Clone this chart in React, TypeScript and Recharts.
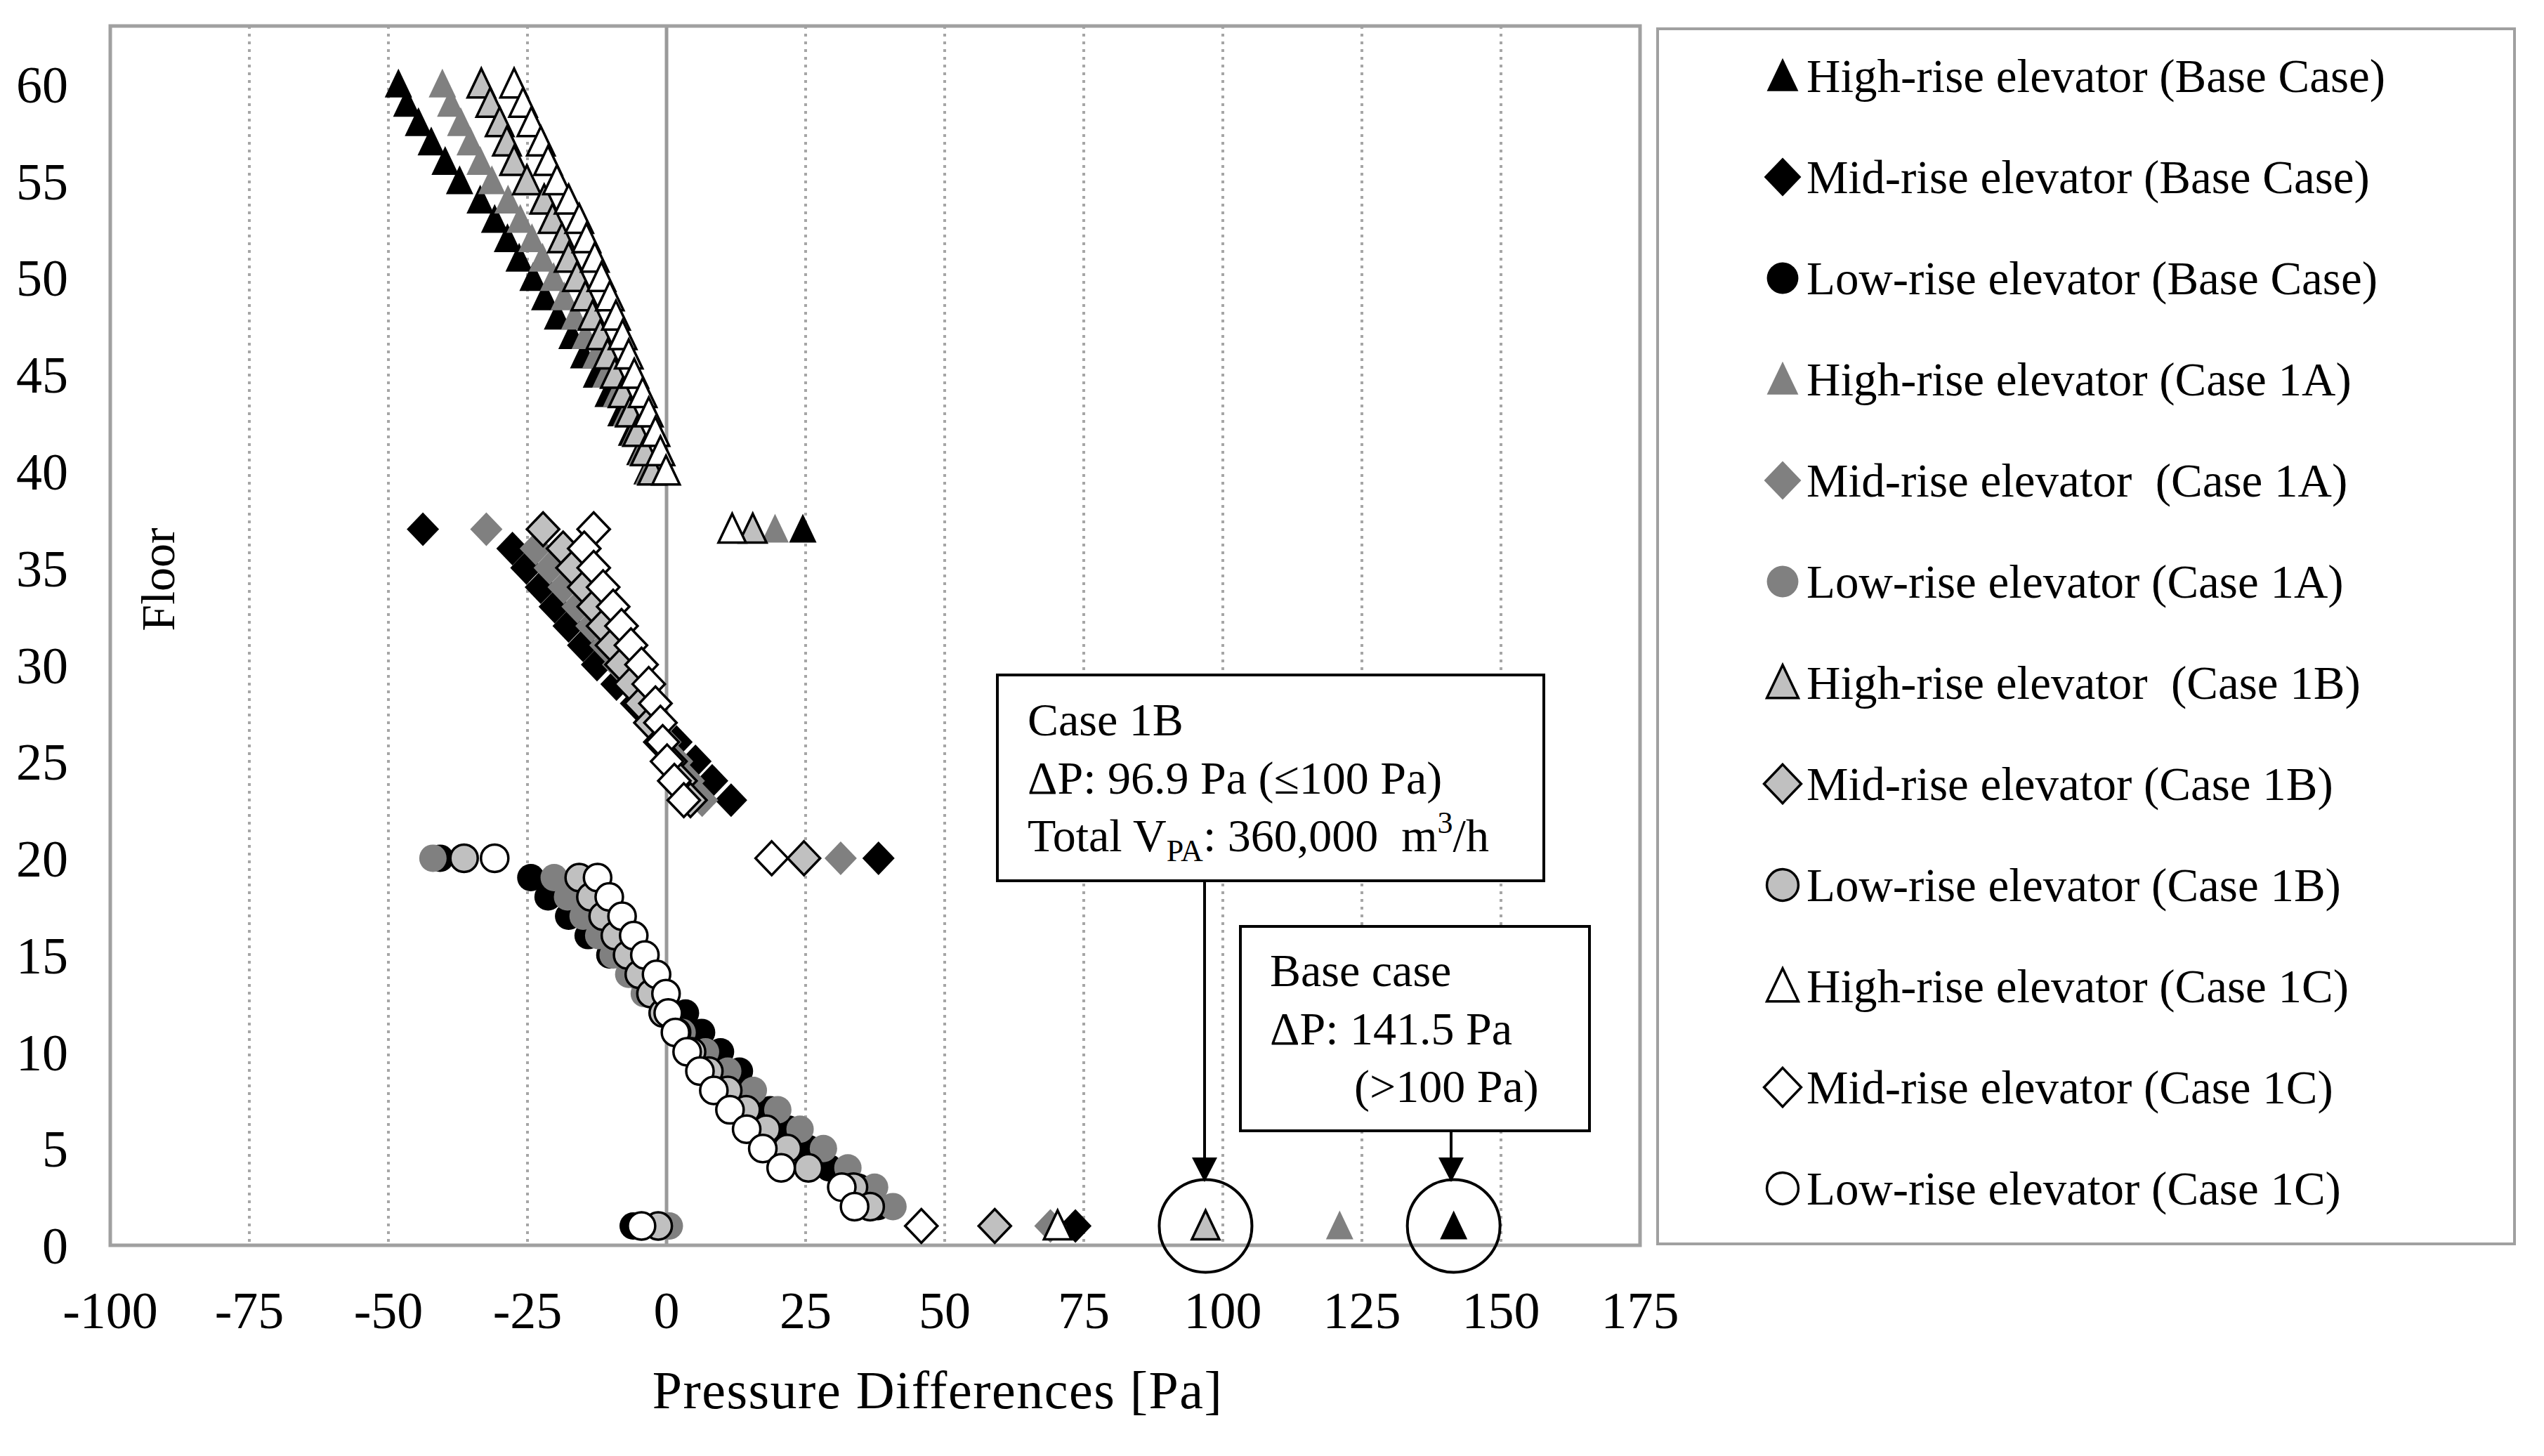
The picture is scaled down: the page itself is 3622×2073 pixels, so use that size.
import {
  ScatterChart,
  Scatter,
  XAxis,
  YAxis,
  CartesianGrid,
  ReferenceArea,
  ReferenceDot,
  Legend,
} from 'recharts'

const W = 3622
const H = 2073
const FONT = '"Liberation Serif", "Times New Roman", serif'

// floors of each elevator group (shaft floors, then the lobby / transfer floors)
const HIGH_FLOORS = [60, 59, 58, 57, 56, 55, 54, 53, 52, 51, 50, 49, 48, 47, 46, 45, 44, 43, 42, 41, 40, 37, 1]
const MID_FLOORS = [37, 36, 35, 34, 33, 32, 31, 30, 29, 28, 27, 26, 25, 24, 23, 20, 1]
const LOW_FLOORS = [20, 19, 18, 17, 16, 15, 14, 13, 12, 11, 10, 9, 8, 7, 6, 5, 4, 3, 2, 1]

// pressure differences [Pa]
const HIGH_BASE = [-48.2, -46.7, -44.6, -42.3, -39.8, -37.2, -33.5, -30.9, -28.6, -26.5, -24.0, -21.9, -19.6, -17.0, -14.9, -12.6, -10.5, -8.2, -6.3, -4.8, -3.5, 24.5, 141.5]
const HIGH_1A = [-40.3, -38.8, -37.0, -35.3, -33.5, -31.4, -28.5, -26.3, -24.2, -22.3, -20.3, -18.4, -16.5, -14.6, -12.7, -10.9, -9.0, -7.2, -5.7, -4.4, -3.2, 19.5, 121.0]
const HIGH_1B = [-33.3, -31.7, -30.0, -28.7, -27.4, -25.1, -22.0, -20.5, -18.8, -17.6, -16.1, -14.6, -13.3, -11.9, -10.6, -9.3, -7.9, -6.6, -5.3, -3.9, -2.6, 15.5, 96.9]
const HIGH_1C = [-27.4, -25.8, -24.3, -22.6, -21.3, -19.7, -17.6, -15.7, -14.4, -12.9, -11.7, -10.2, -9.1, -7.9, -6.8, -5.8, -4.3, -3.2, -2.0, -1.1, -0.1, 11.8, 70.3]

const MID_BASE = [-43.8, -27.7, -25.2, -22.6, -20.1, -17.6, -15.0, -12.5, -9.0, -5.5, -2.0, 1.8, 5.2, 8.2, 11.6, 38.1, 73.5]
const MID_1A = [-32.4, -23.5, -21.0, -18.5, -16.0, -13.5, -11.0, -8.7, -6.4, -4.2, -2.2, -0.2, 1.9, 4.0, 6.4, 31.3, 69.0]
const MID_1B = [-22.2, -18.6, -16.9, -14.8, -13.1, -11.4, -9.8, -8.1, -6.4, -4.6, -2.9, -1.1, 0.7, 2.5, 4.3, 24.7, 59.0]
const MID_1C = [-13.1, -14.8, -13.1, -11.4, -9.6, -8.1, -6.4, -4.5, -3.2, -2.0, -1.1, -0.7, 0.1, 1.4, 3.1, 18.9, 45.8]

const LOW_BASE = [-40.7, -24.4, -21.3, -17.6, -14.1, -10.2, -6.0, -1.4, 3.4, 6.3, 9.7, 13.1, 15.3, 18.6, 22.0, 25.5, 29.2, 34.5, 38.0, -6.0]
const LOW_1A = [-42.0, -20.2, -17.8, -15.0, -12.2, -9.6, -6.8, -4.0, -0.8, 2.8, 7.0, 11.0, 15.6, 20.0, 24.0, 28.2, 32.6, 37.4, 40.7, 0.5]
const LOW_1B = [-36.4, -15.7, -13.6, -11.4, -9.2, -7.0, -4.9, -2.8, -0.6, 1.8, 4.5, 7.6, 11.0, 14.3, 17.9, 21.7, 25.5, 33.6, 36.6, -1.5]
const LOW_1C = [-30.9, -12.4, -10.3, -8.0, -5.9, -3.9, -1.8, -0.1, 0.3, 1.6, 3.7, 6.0, 8.5, 11.4, 14.4, 17.3, 20.6, 31.5, 33.8, -4.5]

const X_TICKS = [-100, -75, -50, -25, 0, 25, 50, 75, 100, 125, 150, 175]
const Y_TICKS = [0, 5, 10, 15, 20, 25, 30, 35, 40, 45, 50, 55, 60]

type Kind = 'triangle' | 'diamond' | 'circle'

interface SeriesDef {
  name: string
  floors: number[]
  values: number[]
  kind: Kind
  fill: string
  stroke: string
}

const SERIES: SeriesDef[] = [
  { name: 'High-rise elevator (Base Case)', floors: HIGH_FLOORS, values: HIGH_BASE, kind: 'triangle', fill: '#000', stroke: 'none' },
  { name: 'Mid-rise elevator (Base Case)', floors: MID_FLOORS, values: MID_BASE, kind: 'diamond', fill: '#000', stroke: 'none' },
  { name: 'Low-rise elevator (Base Case)', floors: LOW_FLOORS, values: LOW_BASE, kind: 'circle', fill: '#000', stroke: 'none' },
  { name: 'High-rise elevator (Case 1A)', floors: HIGH_FLOORS, values: HIGH_1A, kind: 'triangle', fill: '#808080', stroke: 'none' },
  { name: 'Mid-rise elevator  (Case 1A)', floors: MID_FLOORS, values: MID_1A, kind: 'diamond', fill: '#808080', stroke: 'none' },
  { name: 'Low-rise elevator (Case 1A)', floors: LOW_FLOORS, values: LOW_1A, kind: 'circle', fill: '#808080', stroke: 'none' },
  { name: 'High-rise elevator  (Case 1B)', floors: HIGH_FLOORS, values: HIGH_1B, kind: 'triangle', fill: '#c0c0c0', stroke: '#000' },
  { name: 'Mid-rise elevator (Case 1B)', floors: MID_FLOORS, values: MID_1B, kind: 'diamond', fill: '#c0c0c0', stroke: '#000' },
  { name: 'Low-rise elevator (Case 1B)', floors: LOW_FLOORS, values: LOW_1B, kind: 'circle', fill: '#c0c0c0', stroke: '#000' },
  { name: 'High-rise elevator (Case 1C)', floors: HIGH_FLOORS, values: HIGH_1C, kind: 'triangle', fill: '#fff', stroke: '#000' },
  { name: 'Mid-rise elevator (Case 1C)', floors: MID_FLOORS, values: MID_1C, kind: 'diamond', fill: '#fff', stroke: '#000' },
  { name: 'Low-rise elevator (Case 1C)', floors: LOW_FLOORS, values: LOW_1C, kind: 'circle', fill: '#fff', stroke: '#000' },
]

function Marker({ kind, cx, cy, fill, stroke, scale = 1 }: { kind: Kind; cx: number; cy: number; fill: string; stroke: string; scale?: number }) {
  const sw = stroke === 'none' ? 0 : 3.5
  if (kind === 'triangle') {
    const w = 19.5 * scale
    const top = 22 * scale
    const bot = 19 * scale
    return (
      <path
        d={`M${cx},${cy - top}L${cx + w},${cy + bot}L${cx - w},${cy + bot}Z`}
        fill={fill}
        stroke={stroke}
        strokeWidth={sw}
      />
    )
  }
  if (kind === 'diamond') {
    const w = 23 * scale
    const h = 24 * scale
    return (
      <path
        d={`M${cx},${cy - h}L${cx + w},${cy}L${cx},${cy + h}L${cx - w},${cy}Z`}
        fill={fill}
        stroke={stroke}
        strokeWidth={sw}
      />
    )
  }
  return <circle cx={cx} cy={cy} r={19.5 * scale} fill={fill} stroke={stroke} strokeWidth={sw} />
}

// dotted grid, solid line where x = 0
const gridLine = (props: any) => {
  const { x1, x2, y1, y2, index } = props
  if (index === 4) {
    return <line key={`g-${index}`} x1={x1} x2={x2} y1={y1} y2={y2} stroke="#9a9a9a" strokeWidth={5} />
  }
  return (
    <line
      key={`g-${index}`}
      x1={x1}
      x2={x2}
      y1={y1}
      y2={y2}
      stroke="#a6a6a6"
      strokeWidth={4}
      strokeDasharray="4 7"
    />
  )
}

const renderLegend = () => (
  <svg width={1224} height={1734} style={{ display: 'block' }}>
    <rect x={2} y={2} width={1220} height={1730} fill="#fff" stroke="#a0a0a0" strokeWidth={4} />
    {SERIES.map((s, i) => {
      const cy = 69 + i * 144
      return (
        <g key={s.name}>
          <Marker kind={s.kind} cx={180} cy={cy} fill={s.fill} stroke={s.stroke} scale={1.15} />
          <text x={214} y={cy + 23} fontSize={67} fontFamily={FONT} fill="#000" style={{ whiteSpace: 'pre' }}>
            {s.name}
          </text>
        </g>
      )
    })}
  </svg>
)

export default function App() {
  return (
    <div style={{ position: 'absolute', left: 0, top: 0, width: W, height: H, background: '#fff' }}>
      <ScatterChart width={W} height={H} margin={{ top: 37, right: 1287, bottom: 150, left: 37 }}>
        <CartesianGrid horizontal={false} vertical={gridLine} />
        <XAxis
          type="number"
          dataKey="x"
          domain={[-100, 175]}
          ticks={X_TICKS}
          interval={0}
          allowDataOverflow
          height={150}
          axisLine={false}
          tickLine={false}
          tickSize={0}
          tickMargin={65}
          tick={{ fontSize: 74, fill: '#000', fontFamily: FONT }}
        />
        <YAxis
          type="number"
          dataKey="y"
          domain={[0, 63]}
          ticks={Y_TICKS}
          interval={0}
          allowDataOverflow
          width={120}
          axisLine={false}
          tickLine={false}
          tickSize={0}
          tickMargin={60}
          tick={{ fontSize: 74, fill: '#000', fontFamily: FONT }}
        />
        <ReferenceArea x1={-100} x2={175} y1={0} y2={63} fill="none" stroke="#a0a0a0" strokeWidth={5} fillOpacity={0} />
        {SERIES.map((s) => (
          <Scatter
            key={s.name}
            name={s.name}
            data={s.floors.map((f, i) => ({ x: s.values[i], y: f }))}
            isAnimationActive={false}
            shape={(p: any) => <Marker kind={s.kind} cx={p.cx} cy={p.cy} fill={s.fill} stroke={s.stroke} />}
          />
        ))}
        <ReferenceDot x={96.9} y={1} r={66} fill="none" stroke="#000" strokeWidth={4} />
        <ReferenceDot x={141.5} y={1} r={66} fill="none" stroke="#000" strokeWidth={4} />
        <Legend
          layout="vertical"
          align="center"
          verticalAlign="middle"
          content={renderLegend}
          wrapperStyle={{ left: 2358, top: 39, width: 1224, height: 1734 }}
        />
      </ScatterChart>
      <svg
        width={W}
        height={H}
        style={{ position: 'absolute', left: 0, top: 0, pointerEvents: 'none' }}
        fontFamily={FONT}
      >
        <text transform="translate(248,825) rotate(-90)" textAnchor="middle" fontSize={68} fill="#000">
          Floor
        </text>
        <text x={1335} y={2005} textAnchor="middle" fontSize={76} letterSpacing={1.5} fill="#000">
          Pressure Differences [Pa]
        </text>

        {/* Case 1B annotation */}
        <rect x={1420} y={961} width={778} height={293} fill="#fff" stroke="#000" strokeWidth={4} />
        <text x={1463} y={1047} fontSize={66} fill="#000">Case 1B</text>
        <text x={1463} y={1130} fontSize={66} fill="#000">ΔP: 96.9 Pa (≤100 Pa)</text>
        <text x={1463} y={1212} fontSize={66} fill="#000" style={{ whiteSpace: 'pre' }}>
          Total V
          <tspan fontSize={44} dy={14}>PA</tspan>
          <tspan fontSize={66} dy={-14}>: 360,000  m</tspan>
          <tspan fontSize={44} dy={-26}>3</tspan>
          <tspan fontSize={66} dy={26}>/h</tspan>
        </text>
        <line x1={1715} x2={1715} y1={1254} y2={1652} stroke="#000" strokeWidth={4} />
        <path d="M1715,1683L1697,1648L1733,1648Z" fill="#000" />

        {/* Base case annotation */}
        <rect x={1766} y={1319} width={497} height={291} fill="#fff" stroke="#000" strokeWidth={4} />
        <text x={1808} y={1404} fontSize={66} fill="#000">Base case</text>
        <text x={1808} y={1487} fontSize={66} fill="#000">ΔP: 141.5 Pa</text>
        <text x={1928} y={1569} fontSize={66} fill="#000">(&gt;100 Pa)</text>
        <line x1={2066} x2={2066} y1={1610} y2={1652} stroke="#000" strokeWidth={4} />
        <path d="M2066,1683L2048,1648L2084,1648Z" fill="#000" />
      </svg>
    </div>
  )
}
